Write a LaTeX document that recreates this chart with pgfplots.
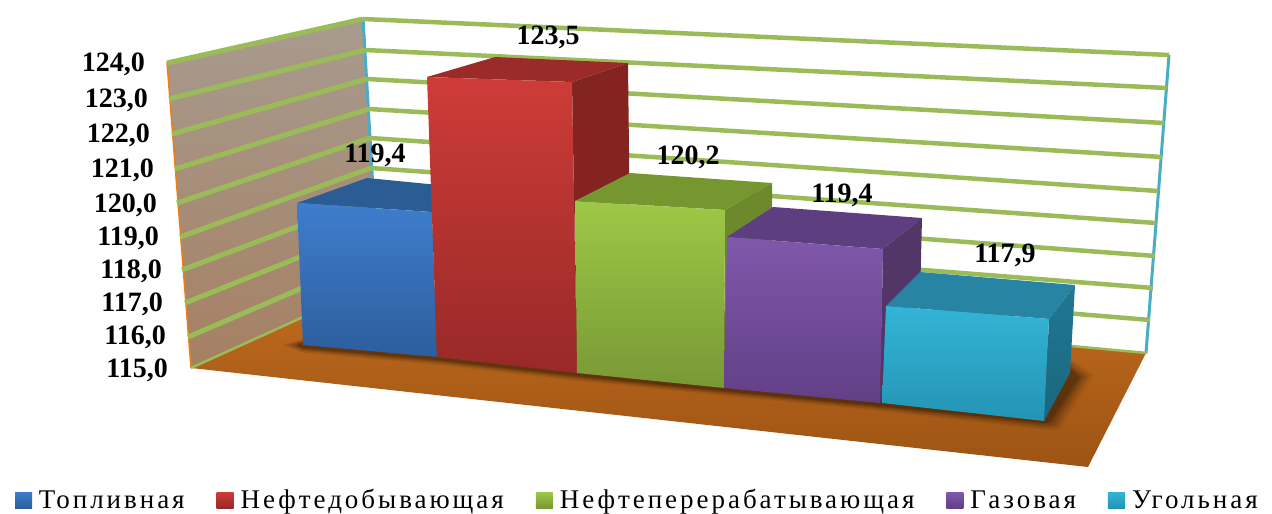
\documentclass[border=0pt]{standalone}
\usepackage{fontspec}
\usepackage{pgfplots}
\pgfplotsset{compat=1.18}
\setmainfont{Liberation Serif}
\newfontfamily\legfont[LetterSpace=11]{Liberation Serif}
\definecolor{gridg}{HTML}{9BBB59}
\definecolor{edgec}{HTML}{4BACC6}
\definecolor{wallT}{RGB}{168,155,143}\definecolor{wallB}{RGB}{165,128,98}
\definecolor{floorT}{RGB}{192,108,30}\definecolor{floorB}{RGB}{158,84,20}
\definecolor{bluT}{RGB}{62,125,205}\definecolor{bluB}{RGB}{45,94,156}\definecolor{bluF}{RGB}{44,92,148}
\definecolor{redT}{RGB}{206,60,56}\definecolor{redB}{RGB}{152,41,40}\definecolor{redF}{RGB}{154,43,40}\definecolor{redS}{RGB}{131,36,32}
\definecolor{greT}{RGB}{158,200,70}\definecolor{greB}{RGB}{120,152,53}\definecolor{greF}{RGB}{118,150,47}\definecolor{greS}{RGB}{108,138,43}
\definecolor{purT}{RGB}{128,88,171}\definecolor{purB}{RGB}{98,63,134}\definecolor{purF}{RGB}{93,62,126}\definecolor{purS}{RGB}{82,54,104}
\definecolor{teaT}{RGB}{51,180,214}\definecolor{teaB}{RGB}{36,148,180}\definecolor{teaF}{RGB}{40,132,163}\definecolor{teaS}{RGB}{32,120,146}\definecolor{teaD}{RGB}{26,102,126}
\newcommand\poly[2]{\addplot[draw=none,forget plot,#1] coordinates {#2};}
\newcommand\gline[2]{\addplot[gridg,line width=#1,forget plot] coordinates {#2};}
\newcommand\leg[3]{\addlegendimage{legend image code/.code={\shade[top color=#1,bottom color=#2,draw=none] (0pt,-8pt) rectangle (17pt,8pt);}}\addlegendentry{#3}}
\begin{document}
\begin{tikzpicture}
\begin{axis}[
  width=1272pt,height=514pt,scale only axis,
  xmin=0,xmax=1272,ymin=0,ymax=514,y dir=reverse,
  axis lines=none,clip=false,no markers,
  legend columns=5,
  legend style={at={(axis cs:15,500)},anchor=west,draw=none,fill=none,inner sep=0pt,outer sep=0pt,
    font=\legfont\fontsize{27}{27}\selectfont,
    nodes={inner sep=0pt},
    /tikz/every odd column/.append style={column sep=7pt},
    /tikz/every even column/.append style={column sep=32pt}},
  legend cell align=left,
]
\path (axis cs:0,0) rectangle (axis cs:1272,514);
% left wall
\poly{top color=wallT,bottom color=wallB}{(167,62)(363,18)(380,282)(191,368)}
\addplot[orange!70!brown,line width=1.5pt,forget plot] coordinates {(167,62)(191,368)};
% floor
\poly{top color=floorT,bottom color=floorB}{(191,368)(380,282)(1146,353)(1088,467)}
% wall edges
\addplot[edgec,line width=3pt,forget plot] coordinates {(363,18)(376,240)};
\addplot[edgec,line width=3pt,forget plot] coordinates {(1169,55)(1146,353)};
% gridlines, back wall
\gline{4.5pt}{(363,19)(1169,55)}
\gline{4.5pt}{(365,50)(1167,88)}
\gline{4.5pt}{(367,79)(1164,123)}
\gline{4.5pt}{(369,109)(1162,157)}
\gline{4.5pt}{(370,138)(1158,191)}
\gline{4.5pt}{(371,168)(1156,223)}
\gline{4.5pt}{(373,198)(1155,256)}
\gline{4.5pt}{(375,227)(1153,288)}
\gline{4.5pt}{(377,256)(1150,320)}
\gline{2.5pt}{(380,282)(1147,353)}
% gridlines, left wall
\gline{5pt}{(167,63)(363,19)}
\gline{5pt}{(169,99)(365,50)}
\gline{5pt}{(172,134)(367,79)}
\gline{5pt}{(175,169)(369,109)}
\gline{5pt}{(177,203)(370,138)}
\gline{5pt}{(180,237)(371,168)}
\gline{5pt}{(182,270)(373,198)}
\gline{5pt}{(185,303)(375,227)}
\gline{5pt}{(188,337)(377,256)}
\gline{2.5pt}{(191,368)(380,282)}
% shadow on the floor
\poly{fill=black,fill opacity=.05}{(282,345)(303,353)(437,365)(577,381)(724,396)(880,411)(1044,430)(1060,430)(1094,375)(1070,358)(1000,310)(400,310)}
\poly{fill=black,fill opacity=.06}{(285,345)(303,352)(437,364)(577,380)(724,395)(880,410)(1044,428.5)(1058,428)(1091,375)(1070,360)(1000,310)(400,310)}
\poly{fill=black,fill opacity=.08}{(288,345)(303,351)(437,363)(577,379)(724,394)(880,409)(1044,427)(1056,426.5)(1088,376)(1070,362)(1000,310)(400,310)}
\poly{fill=black,fill opacity=.1}{(291,345)(303,350)(437,362)(577,378)(724,393)(880,408)(1044,425.5)(1054,425)(1085,376)(1070,365)(1000,310)(400,310)}
\poly{fill=black,fill opacity=.12}{(294,345)(303,349)(437,361)(577,377)(724,392)(880,407)(1044,424)(1052,423)(1082,377)(1070,367)(1000,310)(400,310)}
\poly{fill=black,fill opacity=.14}{(297,345)(303,348)(437,360)(577,376)(724,391)(880,406)(1044,423)(1050,422)(1079,377)(1070,369)(1000,310)(400,310)}
% blue
\poly{fill=bluF}{(297,203)(367,178)(510,192)(432,212)}
\poly{top color=bluT,bottom color=bluB}{(297,203)(432,212)(437,357)(303,345)}
% red
\poly{fill=redF}{(427,77)(495,57)(628,63)(572,82)}
\poly{fill=redS}{(572,82)(628,63)(630,240)(577,373)}
\poly{top color=redT,bottom color=redB}{(427,77)(572,82)(577,373)(437,357)}
% green
\poly{fill=greF}{(575,201)(630,173)(772,183)(725,210)}
\poly{fill=greS}{(725,210)(772,183)(772,240)(724,388)}
\poly{top color=greT,bottom color=greB}{(575,201)(725,210)(724,388)(577,373)}
% purple
\poly{fill=purF}{(727,237)(773,207)(922,218)(883,249)}
\poly{fill=purS}{(883,249)(922,218)(920,300)(880,403)}
\poly{top color=purT,bottom color=purB}{(727,237)(883,249)(880,403)(724,388)}
% teal
\poly{fill=teaF}{(886,306)(920,272)(1075,285)(1049,319)}
\poly{top color=teaS,bottom color=teaD}{(1049,319)(1075,285)(1070,373)(1044,421)}
\poly{top color=teaT,bottom color=teaB}{(886,306)(1049,319)(1044,421)(882,403)}
% value labels
\addplot[draw=none,forget plot,nodes near coords,point meta=explicit symbolic,
  every node near coord/.append style={anchor=center,yshift=-2pt,inner sep=0pt,font=\bfseries\fontsize{28}{28}\selectfont}]
  coordinates {(375,153)[119,4] (548,35)[123,5] (688,155)[120,2] (842,193)[119,4] (1005,253)[117,9]};
% axis labels
\addplot[draw=none,forget plot,nodes near coords,point meta=explicit symbolic,
  every node near coord/.append style={anchor=east,yshift=-2pt,inner sep=0pt,font=\bfseries\fontsize{28}{28}\selectfont}]
  coordinates {(145,62)[124,0] (148,98)[123,0] (150,133)[122,0] (154,168)[121,0] (157,203)[120,0]
   (159,236)[119,0] (162,269)[118,0] (163,302)[117,0] (166,335)[116,0] (168,368)[115,0]};
% legend
\leg{bluT}{bluB}{Топливная}
\leg{redT}{redB}{Нефтедобывающая}
\leg{greT}{greB}{Нефтеперерабатывающая}
\leg{purT}{purB}{Газовая}
\leg{teaT}{teaB}{Угольная}
\end{axis}
\end{tikzpicture}
\end{document}
